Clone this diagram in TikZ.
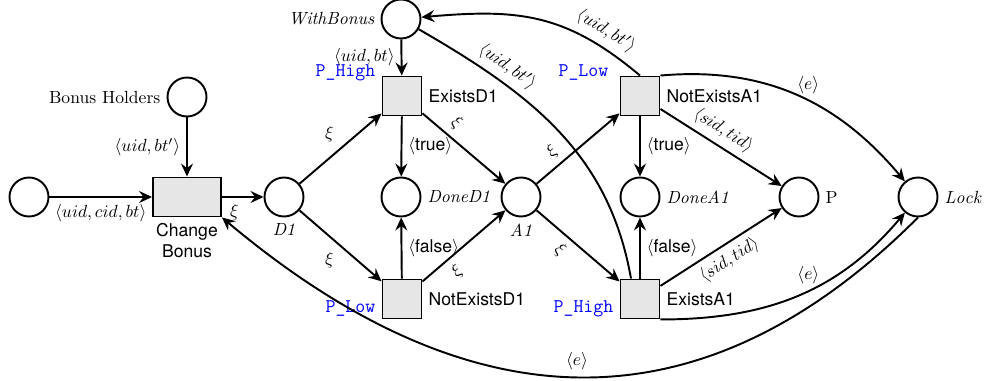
\documentclass[tikz,border=0pt]{standalone}
\usepackage{fontspec}
\setsansfont{TeX Gyre Heros}
\usepackage{xcolor}
\definecolor{cLine}{HTML}{000000}
\definecolor{cFill}{HTML}{E6E6E6}
\definecolor{cPrio}{HTML}{0000FF}
\usepackage{tikz}
\usetikzlibrary{positioning,arrows.meta}
\tikzset{
  node-place/.style={draw=cLine,line width=1.1pt,circle,minimum size=7.8mm,inner sep=0pt},
  node-trans/.style={draw=cLine,line width=1.1pt,fill=cFill,
    minimum width=7.8mm,minimum height=7.8mm,inner sep=0pt},
  node-trans-wide/.style={node-trans,minimum width=13.6mm},
  % priority tags and transition names
  tag-prio/.style={font=\fontsize{11}{13}\ttfamily,text=cPrio},
  tag-name/.style={font=\sffamily},
  arrow/.style={-{Stealth[length=2.6mm,width=2.4mm,inset=0.9mm]},line width=1.1pt,draw=cLine},
  arc-plain/.style={line width=1.1pt,draw=cLine},
}

\begin{document}
\begin{tikzpicture}
  \useasboundingbox (0,-3.68) rectangle (19.74,3.94);

  % places
  \node[node-place] (src) at (0.58,0) {};
  \node[node-place,label=left:Bonus Holders] (holders) at (3.74,2.0) {};
  \node[node-place,label=below:$\mathit{D1}$] (d1) at (5.68,0) {};
  \node[node-place,label=left:$\mathit{WithBonus}$] (bonus) at (8.02,3.56) {};
  \node[node-place,label=right:$\mathit{DoneD1}$] (doned1) at (8.02,0) {};
  \node[node-place,label=below:$\mathit{A1}$] (a1) at (10.42,0) {};
  \node[node-place,label=right:$\mathit{DoneA1}$] (donea1) at (12.8,0) {};
  \node[node-place,label=right:P] (p) at (15.98,0) {};
  \node[node-place,label=right:$\mathit{Lock}$] (lock) at (18.36,0) {};

  % transitions
  \node[node-trans-wide,label={[tag-name,align=center]below:Change\\Bonus}] (change) at (3.74,0) {};
  \node[node-trans,label={[tag-name]right:ExistsD1},
    label={[tag-prio,anchor=east,yshift=0.6mm]north west:P\_High}] (exd1) at (8.04,2.02) {};
  \node[node-trans,label={[tag-name]right:NotExistsD1},
    label={[tag-prio,anchor=east,yshift=2.2mm]south west:P\_Low}] (nexd1) at (8.04,-2.04) {};
  \node[node-trans,label={[tag-name]right:NotExistsA1},
    label={[tag-prio,anchor=east,yshift=0.6mm,xshift=-1mm]north west:P\_Low}] (nexa1) at (12.8,2.02) {};
  \node[node-trans,label={[tag-name]right:ExistsA1},
    label={[tag-prio,anchor=east,yshift=2.2mm]south west:P\_High}] (exa1) at (12.8,-2.04) {};

  % arcs
  \draw[arrow] (src) -- node[below] {$\langle uid,cid,bt\rangle$} (change);
  \draw[arrow] (holders) -- node[left] {$\langle uid,bt'\rangle$} (change);
  \draw[arrow] (change) -- node[below,pos=0.3] {$\xi$} (d1);
  \draw[arrow] (d1) -- node[above left] {$\xi$} (exd1);
  \draw[arrow] (d1) -- node[below left] {$\xi$} (nexd1);
  \draw[arrow] (bonus) -- node[left] {$\langle uid,bt\rangle$} (exd1);
  \draw[arrow] (exd1) -- node[right] {$\langle$\textsf{true}$\rangle$} (doned1);
  \draw[arrow] (exd1) -- node[sloped,above,pos=0.3] {$\xi$} (a1);
  \draw[arrow] (nexd1) -- node[right] {$\langle$\textsf{false}$\rangle$} (doned1);
  \draw[arrow] (nexd1) -- node[sloped,below,pos=0.3] {$\xi$} (a1);
  \draw[arrow] (a1) -- node[sloped,above,pos=0.3] {$\xi$} (nexa1);
  \draw[arrow] (a1) -- node[sloped,below,pos=0.4] {$\xi$} (exa1);
  \draw[arrow] (nexa1) -- node[right] {$\langle$\textsf{true}$\rangle$} (donea1);
  \draw[arrow] (exa1) -- node[right] {$\langle$\textsf{false}$\rangle$} (donea1);
  \draw[arrow] (nexa1) -- node[sloped,above,pos=0.45] {$\langle sid,tid\rangle$} (p);
  \draw[arrow] (exa1) -- node[sloped,below] {$\langle sid,tid\rangle$} (p);

  \draw[arrow] (nexa1.north) to[out=140,in=5,looseness=1.1]
    node[sloped,above,pos=0.2] {$\langle uid,bt'\rangle$} (bonus);
  \draw[arc-plain] (bonus) to[out=-30,in=100]
    node[sloped,above,pos=0.26] {$\langle uid,bt'\rangle$} ([xshift=-1.8mm]exa1.north);
  \draw[arrow] (nexa1.north east) to[out=5,in=130] node[above,pos=0.55] {$\langle e\rangle$} (lock);
  \draw[arrow] (exa1.south east) to[out=0,in=-130] node[above,pos=0.55] {$\langle e\rangle$} (lock);
  \draw[arrow] (lock.south) to[out=-135,in=-40,looseness=1.16]
    node[above] {$\langle e\rangle$} (change.south east);
\end{tikzpicture}
\end{document}
